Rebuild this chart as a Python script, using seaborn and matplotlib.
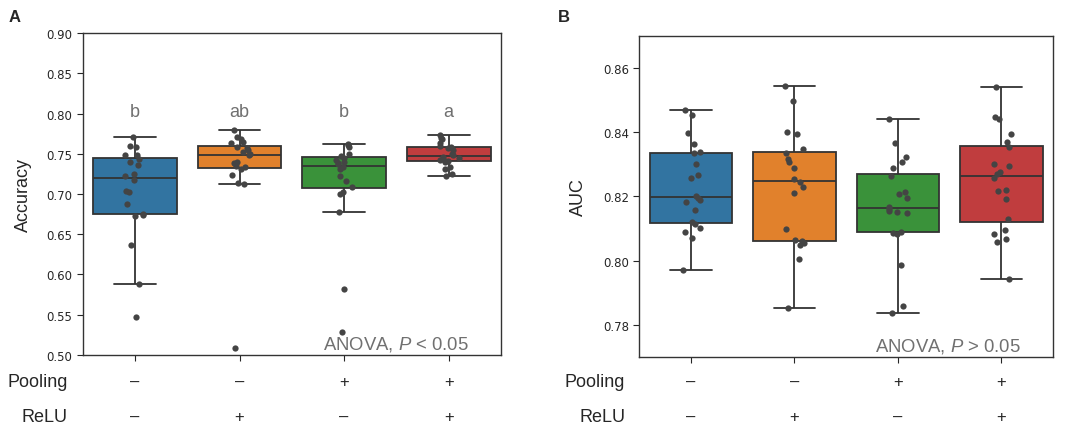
import numpy as np
import pandas as pd
import matplotlib
matplotlib.use("Agg")
import matplotlib.pyplot as plt
import seaborn as sns

# group labels and the +/- table under the x axis
groups = ["1", "2", "3", "4"]
pooling_signs = ["\u2013", "\u2013", "+", "+"]
relu_signs = ["\u2013", "+", "\u2013", "+"]
letters = ["b", "ab", "b", "a"]

# panel A, accuracy per run
acc_1 = [0.547, 0.588, 0.636, 0.673, 0.674, 0.675, 0.687, 0.703, 0.704, 0.717,
         0.723, 0.725, 0.736, 0.740, 0.744, 0.748, 0.749, 0.758, 0.760, 0.771]
acc_2 = [0.508, 0.713, 0.714, 0.724, 0.731, 0.733, 0.735, 0.738, 0.740, 0.748,
         0.750, 0.752, 0.755, 0.757, 0.759, 0.763, 0.765, 0.769, 0.771, 0.780]
acc_3 = [0.528, 0.582, 0.678, 0.700, 0.702, 0.709, 0.716, 0.722, 0.731, 0.733,
         0.737, 0.738, 0.740, 0.742, 0.745, 0.747, 0.750, 0.758, 0.761, 0.762]
acc_4 = [0.723, 0.725, 0.731, 0.733, 0.740, 0.741, 0.742, 0.743, 0.745, 0.746,
         0.748, 0.750, 0.755, 0.757, 0.758, 0.760, 0.764, 0.768, 0.770, 0.773]

# panel B, AUC per run
auc_1 = [0.7971, 0.8071, 0.8090, 0.8103, 0.8115, 0.8120, 0.8157, 0.8183, 0.8190, 0.8196,
         0.8202, 0.8256, 0.8268, 0.8300, 0.8334, 0.8338, 0.8362, 0.8396, 0.8453, 0.8468]
auc_2 = [0.7852, 0.8005, 0.8049, 0.8055, 0.8060, 0.8064, 0.8098, 0.8212, 0.8228, 0.8245,
         0.8253, 0.8287, 0.8306, 0.8316, 0.8336, 0.8346, 0.8394, 0.8400, 0.8496, 0.8544]
auc_3 = [0.7839, 0.7860, 0.7986, 0.8082, 0.8086, 0.8090, 0.8150, 0.8153, 0.8156, 0.8160,
         0.8166, 0.8196, 0.8207, 0.8215, 0.8264, 0.8287, 0.8306, 0.8323, 0.8365, 0.8442]
auc_4 = [0.7943, 0.8058, 0.8068, 0.8082, 0.8095, 0.8129, 0.8191, 0.8218, 0.8220, 0.8258,
         0.8270, 0.8277, 0.8295, 0.8302, 0.8354, 0.8368, 0.8393, 0.8442, 0.8447, 0.8541]


def long_df(cols):
    rows = []
    for g, vals in zip(groups, cols):
        for v in vals:
            rows.append({"group": g, "value": v})
    return pd.DataFrame(rows)


df_acc = long_df([acc_1, acc_2, acc_3, acc_4])
df_auc = long_df([auc_1, auc_2, auc_3, auc_4])

sns.set_style("ticks")
plt.rcParams["font.family"] = ["DejaVu Sans"]
plt.rcParams["mathtext.fontset"] = "custom"
plt.rcParams["mathtext.rm"] = "Liberation Sans"
plt.rcParams["mathtext.it"] = "Liberation Sans:italic"
np.random.seed(3)

SANS = "Liberation Sans"
GRAY_TXT = "#707070"

fig = plt.figure(figsize=(10.84, 4.27), dpi=100)
axA = fig.add_axes([0.0763, 0.167, 0.3859, 0.7527])
axB = fig.add_axes([0.5898, 0.161, 0.3816, 0.7532])


def draw_panel(ax, df, ylabel, label_x):
    sns.boxplot(data=df, x="group", y="value", hue="group", palette="tab10",
                showfliers=False, linecolor="#333333", linewidth=1.3,
                legend=False, ax=ax)
    sns.stripplot(data=df, x="group", y="value", color="#444444", size=4.5,
                  jitter=0.1, ax=ax)
    ax.set_xlim(-0.5, 3.5)
    ax.set_xticks(range(4))
    ax.set_xticklabels([])
    ax.set_xlabel("")
    ax.set_ylabel(ylabel, fontsize=13, family=SANS)
    ax.yaxis.set_label_coords(label_x, 0.5)
    ax.tick_params(axis="y", labelsize=8.5, length=4)
    ax.tick_params(axis="x", length=4)
    for s in ax.spines.values():
        s.set_color("#333333")
        s.set_linewidth(1.0)


draw_panel(axA, df_acc, "Accuracy", -0.121)
axA.set_ylim(0.50, 0.90)
axA.set_yticks(np.arange(0.50, 0.901, 0.05))
axA.set_yticklabels([f"{t:.2f}" for t in np.arange(0.50, 0.901, 0.05)])
for i, lt in enumerate(letters):
    axA.text(i, 0.803, lt, ha="center", va="center", fontsize=13,
             color=GRAY_TXT, family=SANS)
axA.text(0.922, 0.036, "ANOVA, $P$ < 0.05", transform=axA.transAxes,
         ha="right", va="center", fontsize=13.3, color=GRAY_TXT, family=SANS)

draw_panel(axB, df_auc, "AUC", -0.126)
axB.set_ylim(0.77, 0.87)
axB.set_yticks(np.arange(0.78, 0.861, 0.02))
axB.set_yticklabels([f"{t:.2f}" for t in np.arange(0.78, 0.861, 0.02)])
axB.text(0.9227, 0.036, "ANOVA, $P$ > 0.05", transform=axB.transAxes,
         ha="right", va="center", fontsize=13.3, color=GRAY_TXT, family=SANS)

# +/- table rows under each panel
for ax, row_x in [(axA, 0.0627), (axB, 0.5766)]:
    trans = matplotlib.transforms.blended_transform_factory(ax.transData, fig.transFigure)
    fig.text(row_x, 0.1037, "Pooling", ha="right", va="center", fontsize=13, family=SANS)
    fig.text(row_x, 0.023, "ReLU", ha="right", va="center", fontsize=13, family=SANS)
    for i in range(4):
        ax.text(i, 0.1037, pooling_signs[i], transform=trans, ha="center", va="center",
                fontsize=12, family=SANS)
        ax.text(i, 0.023, relu_signs[i], transform=trans, ha="center", va="center",
                fontsize=12, family=SANS)

fig.text(0.0075, 0.96, "A", fontsize=12, fontweight="bold", family=SANS, va="center")
fig.text(0.515, 0.96, "B", fontsize=12, fontweight="bold", family=SANS, va="center")

fig.savefig("out.png", dpi=100)
